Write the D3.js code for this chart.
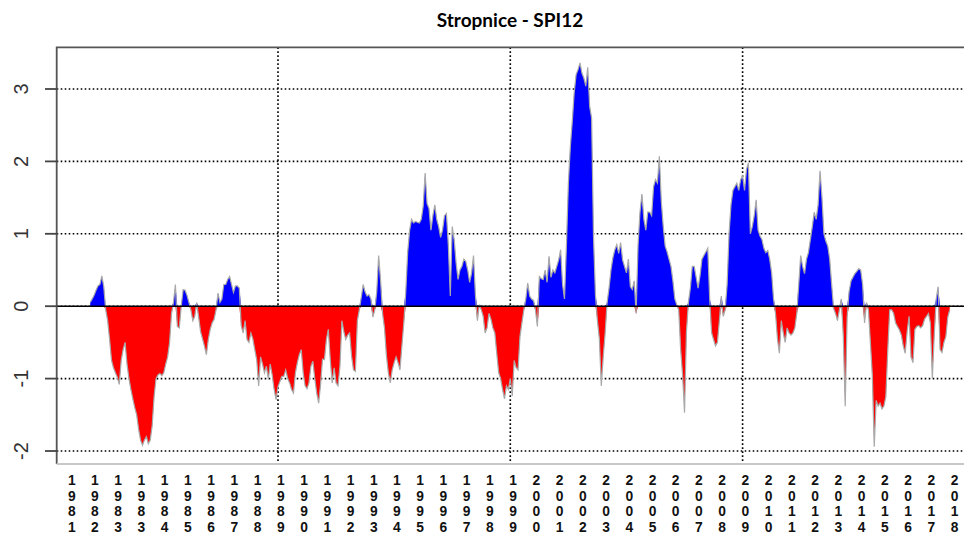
<!DOCTYPE html>
<html><head><meta charset="utf-8">
<script src="https://cdn.jsdelivr.net/npm/d3@7"></script>
<style>body{margin:0;background:#fff} svg{display:block}</style>
</head><body>
<svg id="chart" width="964" height="536"></svg>
<script>
const chartTitle = "Stropnice - SPI12";
// months counted from Jan 1981 (index 0); first valid SPI12 value is Dec 1981
const firstMonthIndex = 11;
const spi1980s = [0.05,0.1,0.15,0.22,0.28,0.3,0.42,0.27,-0.05,-0.2,
 -0.46,-0.75,-0.85,-0.92,-0.98,-1.08,-0.75,-0.6,-0.5,-0.8,
 -1.0,-1.15,-1.28,-1.4,-1.5,-1.7,-1.85,-1.92,-1.85,-1.8,
 -1.9,-1.85,-1.65,-1.25,-1.0,-0.95,-0.93,-0.96,-0.92,-0.8,
 -0.7,-0.5,-0.1,0.05,0.3,-0.28,-0.3,0.0,0.23,0.22,
 0.15,0.05,-0.05,-0.2,-0.14,0.05,-0.15,-0.35,-0.45,-0.55,
 -0.67,-0.46,-0.32,-0.23,-0.18,-0.05,0.18,0.05,0.1,0.3,
 0.3,0.37,0.41,0.3,0.19,0.28,0.28,0.25,-0.27,-0.37,
 -0.2,-0.46,-0.5,-0.37,-0.45,-0.6,-0.74,-1.1,-0.7,-0.8,
 -0.92,-0.83,-1.01,-0.8,-0.95,-1.15,-1.29];
const spi1990s = [-1.11,-1.04,-0.97,-0.97,-0.88,-1.0,-1.06,-1.15,-1.2,-0.92,
 -0.78,-0.67,-0.6,-0.92,-1.1,-1.14,-1.06,-0.83,-0.76,-1.0,
 -1.2,-1.34,-1.08,-0.73,-0.74,-0.46,-0.32,-0.74,-1.06,-0.85,
 -1.06,-1.1,-0.83,-0.2,-0.35,-0.46,-0.4,-0.37,-0.69,-0.88,
 -0.9,-0.2,-0.05,0.12,0.3,0.2,0.14,0.16,0.1,-0.15,
 -0.05,0.2,0.7,0.35,-0.1,-0.3,-0.68,-0.92,-1.06,-0.88,
 -0.78,-0.7,-0.78,-0.88,-0.55,-0.23,0.2,0.75,1.05,1.2,
 1.15,1.17,1.16,1.15,1.2,1.38,1.84,1.42,1.35,1.05,
 1.25,1.4,1.2,1.1,0.95,1.05,1.25,1.28,0.84,0.14,
 1.1,0.92,0.6,0.37,0.5,0.55,0.65,0.62,0.5,0.33,
 0.46,0.7,0.15,-0.2,0.02,-0.05,-0.14,-0.37,-0.3,-0.1,
 -0.18,-0.3,-0.37,-0.65,-0.92,-1.0,-1.15,-1.28,-1.1,-1.15];
const spi2000s = [-1.0,-1.24,-0.75,-0.85,-0.88,-0.42,-0.23,-0.05,0.1,0.32,
 0.14,0.1,0.08,-0.05,-0.28,0.41,0.38,0.37,0.5,0.33,
 0.69,0.4,0.5,0.46,0.55,0.64,0.78,0.3,0.1,0.85,
 1.7,2.2,2.55,2.95,3.2,3.27,3.36,3.22,3.15,3.04,
 3.3,2.76,2.6,0.95,0.15,-0.2,-0.45,-1.1,-0.7,-0.37,
 0.05,0.25,0.5,0.67,0.78,0.85,0.73,0.88,0.64,0.55,
 0.46,0.65,0.27,0.23,0.35,-0.1,0.85,1.3,1.55,1.2,
 1.05,1.3,1.3,1.25,1.65,1.75,1.7,2.07,1.45,1.1,
 0.83,0.75,0.65,0.55,0.35,0.1,0.02,-0.05,-0.6,-0.95,
 -1.47,-0.35,0.05,0.25,0.55,0.55,0.4,0.25,0.42,0.65,
 0.7,0.75,0.8,0.1,-0.37,-0.46,-0.55,-0.5,-0.2,0.14,
 -0.14,-0.05,0.3,1.0,1.4,1.6,1.65,1.7,1.6,1.75];
const spi2010s = [1.8,1.6,1.89,1.98,1.0,1.1,1.25,1.47,1.05,0.97,
 0.92,0.8,0.74,0.77,0.65,0.46,0.1,-0.1,-0.45,-0.65,
 -0.2,-0.37,-0.5,-0.3,-0.37,-0.4,-0.37,-0.3,-0.1,0.3,
 0.7,0.55,0.45,0.65,0.74,0.92,1.1,1.3,1.2,1.4,
 1.87,1.5,1.0,0.9,0.83,0.65,0.3,-0.03,-0.1,-0.2,
 -0.05,0.1,-0.4,-1.38,-0.15,0.2,0.35,0.4,0.45,0.48,
 0.52,0.5,0.3,-0.23,0.05,-0.05,-0.5,-0.95,-1.94,-1.3,
 -1.38,-1.34,-1.42,-1.38,-1.25,-0.6,-0.05,-0.05,-0.1,-0.23,
 -0.28,-0.33,-0.4,-0.55,-0.65,-0.35,-0.14,-0.7,-0.78,-0.32,
 -0.28,-0.27,-0.3,-0.27,-0.18,-0.14,-0.1,-0.23,-1.0,-0.4,
 0.1,0.27,-0.6,-0.64,-0.5,-0.42,-0.15,-0.05];
const yTickValues = [-2,-1,0,1,2,3];
const gridYears = [1990,2000,2010];
const xTickLabels = ["1981","1982","1983","1983","1984","1985","1986","1987","1988","1989",
 "1990","1991","1992","1993","1994","1995","1996","1997","1998","1999",
 "2000","2001","2002","2003","2004","2005","2006","2007","2008","2009",
 "2010","2011","2012","2013","2014","2015","2016","2017","2018"];
const firstTickMonth = 1.45; // month index of the first x-axis label

const values = [].concat(spi1980s, spi1990s, spi2000s, spi2010s);
const data = values.map((v,i)=>({m:firstMonthIndex+i, v}));

const svg = d3.select("#chart");
const L = 56.7, T = 47.3, B = 464, R = 982;
const x = d3.scaleLinear().domain([108,348]).range([278,742.6]);
const y = d3.scaleLinear().domain([-2,3]).range([451,89]);

svg.append("defs").append("clipPath").attr("id","plotclip")
  .append("rect").attr("x",L).attr("y",T).attr("width",R-L).attr("height",B-T);

const plot = svg.append("g").attr("clip-path","url(#plotclip)");

// grid
const dotted = "1.6 2.4";
plot.selectAll("line.hg").data(yTickValues).join("line").attr("class","hg")
  .attr("x1",L).attr("x2",R).attr("y1",d=>y(d)).attr("y2",d=>y(d))
  .attr("stroke","#000").attr("stroke-width",1.6).attr("stroke-dasharray",dotted);
plot.selectAll("line.vg").data(gridYears).join("line").attr("class","vg")
  .attr("x1",d=>x((d-1981)*12)).attr("x2",d=>x((d-1981)*12)).attr("y1",T).attr("y2",B)
  .attr("stroke","#000").attr("stroke-width",1.6).attr("stroke-dasharray",dotted);

// filled areas
const padded = [{m:data[0].m, v:0}, ...data, {m:data[data.length-1].m, v:0}];
const areaPos = d3.area().x(d=>x(d.m)).y0(y(0)).y1(d=>y(Math.max(0,d.v)));
const areaNeg = d3.area().x(d=>x(d.m)).y0(y(0)).y1(d=>y(Math.min(0,d.v)));
plot.append("path").datum(padded).attr("d",areaPos).attr("fill","#0000ff");
plot.append("path").datum(padded).attr("d",areaNeg).attr("fill","#ff0000");
// grey series line
const line = d3.line().x(d=>x(d.m)).y(d=>y(d.v));
plot.append("path").datum(data).attr("d",line).attr("fill","none")
  .attr("stroke","#a9a9a9").attr("stroke-width",1.2);
// zero line
plot.append("line").attr("x1",L).attr("x2",R).attr("y1",y(0)).attr("y2",y(0))
  .attr("stroke","#000").attr("stroke-width",1.5);

// frame
svg.append("path").attr("d",`M${L},${B}V${T}H${R}`).attr("fill","none")
  .attr("stroke","#555").attr("stroke-width",1.8);
svg.append("line").attr("x1",L).attr("x2",R).attr("y1",B).attr("y2",B)
  .attr("stroke","#c8c8c8").attr("stroke-width",1.8);

// y axis
const yAxis = svg.append("g");
yAxis.selectAll("line").data(yTickValues).join("line")
  .attr("x1",45).attr("x2",L).attr("y1",d=>y(d)).attr("y2",d=>y(d))
  .attr("stroke","#444").attr("stroke-width",1.8);
yAxis.selectAll("text").data(yTickValues).join("text")
  .attr("transform",d=>`translate(28,${y(d)}) rotate(-90)`)
  .attr("text-anchor","middle")
  .attr("font-family","'Liberation Sans', Arial, sans-serif").attr("font-size",20)
  .attr("fill","#333").text(d=>d);

// x axis labels (one digit per line, each digit its own text)
const xAxis = svg.append("g");
const xg = xAxis.selectAll("g").data(xTickLabels).join("g")
  .attr("transform",(d,i)=>`translate(${x(firstTickMonth + 12*i)},0)`);
xg.selectAll("text").data(d=>d.split("")).join("text")
  .attr("x",0).attr("y",(d,j)=>485 + j*15.7)
  .attr("text-anchor","middle")
  .attr("font-family","'Liberation Sans', Arial, sans-serif").attr("font-weight",700)
  .attr("font-size",13.8).attr("fill","#111").text(d=>d);

// title
svg.append("text").attr("x",510).attr("y",27).attr("text-anchor","middle")
  .attr("font-family","Lato, 'Open Sans', sans-serif").attr("font-weight",700)
  .attr("font-size",19).attr("fill","#000").text(chartTitle);
</script>
</body></html>
